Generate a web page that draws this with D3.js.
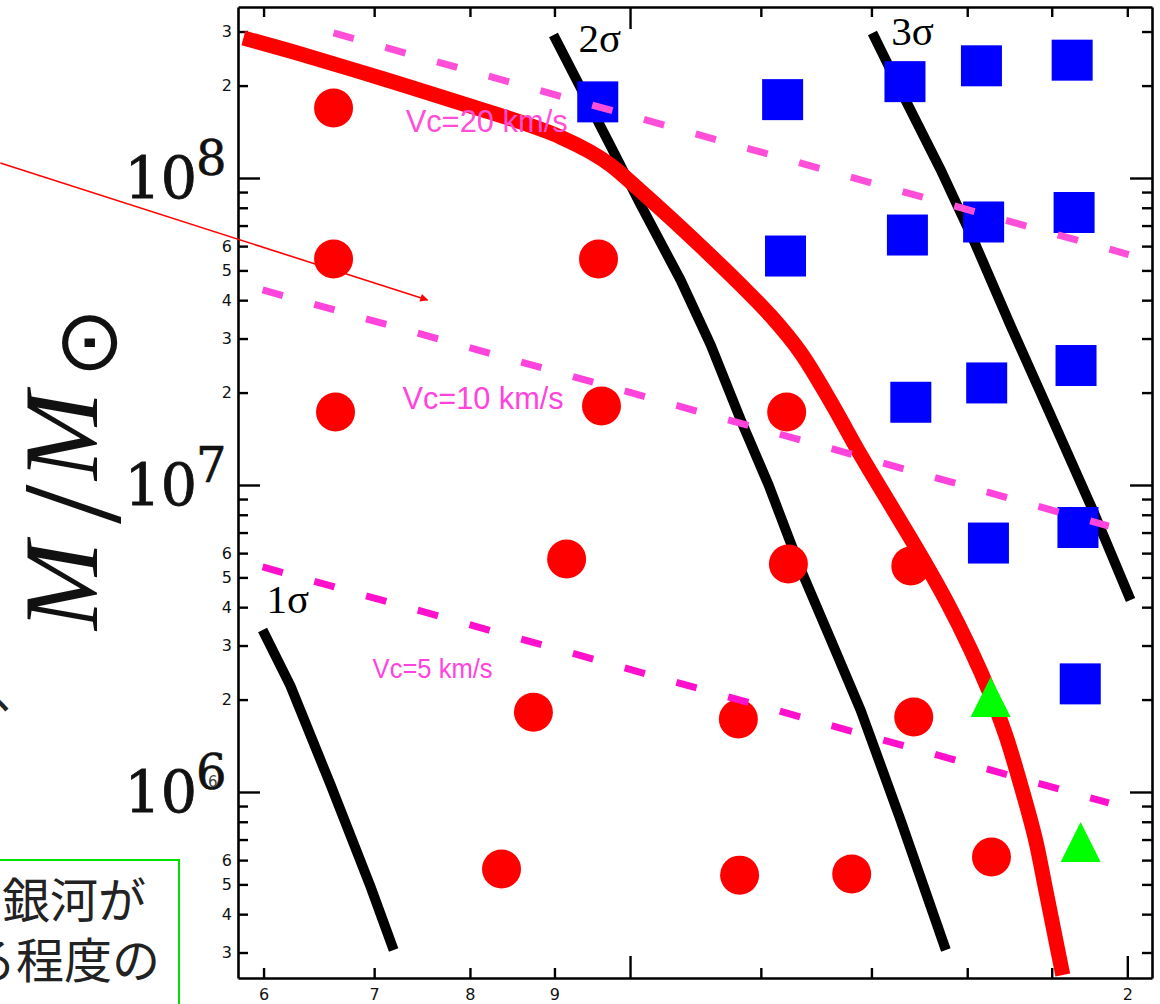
<!DOCTYPE html>
<html>
<head>
<meta charset="utf-8">
<script src="https://cdn.jsdelivr.net/npm/d3@7"></script>
<style>
body { margin: 0; background: #fff; }
svg { display: block; }
</style>
</head>
<body>
<div id="chart"></div>
<script>
// points: [x, mass]
const redCircles = [[6.615,1.69e8],[6.615,5.45e7],[6.633,1.73e7],[9.57,5.45e7],[9.61,1.81e7],
    [9.154,5.74e6],[8.74,1.82e6],[8.36,5.61e5],[12.44,1.73e7],[12.47,5.53e6],[11.63,1.73e6],
    [11.65,5.36e5],[13.62,5.41e5],[14.79,5.45e6],[14.85,1.755e6],[16.55,6.14e5]];
const blueSquares = [[9.56,1.77e8],[12.37,1.80e8],[14.67,2.06e8],[16.32,2.32e8],[18.52,2.42e8],
    [16.37,7.19e7],[14.72,6.52e7],[12.42,5.57e7],[18.57,7.72e7],[18.62,2.45e7],[16.44,2.15e7],
    [14.79,1.86e7],[16.48,6.47e6],[18.67,7.27e6],[18.73,2.25e6]];
const greenTriangles = [[16.53,2.04e6],[18.74,6.87e5]];

const redCurve = [[5.834,2.858e8],[6.318,2.535e8],[7.063,2.117e8],[7.896,1.755e8],[8.584,1.522e8],
    [9.076,1.360e8],[9.464,1.215e8],[9.732,1.102e8],[10.15,9.07e7],[10.58,7.41e7],[11.03,6.01e7],
    [11.67,4.48e7],[12.17,3.55e7],[12.69,2.69e7],[13.23,1.864e7],[13.79,1.252e7],[14.38,8.60e6],
    [14.99,5.92e6],[15.53,4.22e6],[16.08,2.90e6],[16.53,2.07e6],[16.88,1.534e6],[17.24,1.054e6],
    [17.60,6.98e5],[17.85,4.80e5],[18.10,3.30e5],[18.28,2.535e5]];
const sigma1 = [[5.992,3.372e6],[6.23,2.214e6],[6.588,1.054e6],[6.966,4.905e5],[7.193,3.057e5]];
const sigma2 = [[8.988,2.923e8],[9.691,1.330e8],[10.15,8.17e7],[10.73,4.65e7],[11.19,2.858e7],
    [11.67,1.628e7],[12.13,1.0e7],[12.69,5.29e6],[13.23,3.13e6],[13.79,1.850e6],[14.58,8.11e5],
    [15.53,3.057e5]];
const sigma3 = [[14.02,2.968e8],[14.68,1.795e8],[15.42,1.062e8],[16.19,6.05e7],[16.99,3.32e7],
    [17.97,1.690e7],[19.06,8.29e6],[20.09,4.22e6]];

const vcLines = [
    {name: "Vc=20 km/s", pts: [[6.615,2.968e8],[20.04,5.63e7]], label: [7.314,1.412e8], color: "#ff4fd8", labelColor: "#ff4fd8", width: 162, size: 31},
    {name: "Vc=10 km/s", pts: [[5.992,4.32e7],[19.49,7.35e6]], label: [7.283,1.768e7], color: "#ff44dd", labelColor: "#ff44dd", width: 161, size: 31},
    {name: "Vc=5 km/s", pts: [[5.992,5.41e6],[19.49,9.21e5]], label: [6.985,2.351e6], color: "#ff10cc", labelColor: "#ff44dd", width: 120, size: 27}
];
const sigmaLabels = [["1σ",6.025,3.829e6],["2σ",9.307,2.573e8],["3σ",14.39,2.712e8]];

const arrowPts = [[4.157,1.119e8],[7.541,4.005e7]];

const xTicks = [6,7,8,9,10,12,14,16,18,20];
const xMajor = [10,20];
const xLabels = {6: "6", 7: "7", 8: "8", 9: "9", 20: "2"};
const yDecades = [1e5,1e6,1e7,1e8];
const yMantissas = [1,2,3,4,5,6,7,8,9];
const yLabelled = [2,3,4,5,6];
const yPowers = [6,7,8];

const width = 1160, height = 1004;

const svg = d3.select("#chart").append("svg")
    .attr("width", width)
    .attr("height", height);

const x = d3.scaleLog().domain([5.79, 20.7]).range([238, 1152]);
const y = d3.scaleLog().domain([2.478e5, 3.606e8]).range([978, 7]);

const yTicks = [];
yDecades.forEach(dec => yMantissas.forEach(m => {
    const v = m * dec;
    if (v >= y.domain()[0] && v <= y.domain()[1]) yTicks.push(v);
}));
const isYMajor = v => Math.abs(Math.log10(v) - Math.round(Math.log10(v))) < 1e-6;
const mant = v => Math.round(v / Math.pow(10, Math.floor(Math.log10(v) + 1e-9)));

// ---- axes
function styleAxis(g) {
    g.selectAll("path.domain").attr("stroke", "#000").attr("stroke-width", 2.6);
    g.selectAll(".tick line").attr("stroke", "#000").attr("stroke-width", 2.4);
    g.selectAll(".tick text").attr("font-family", "DejaVu Sans").attr("font-size", 16).attr("fill", "#111");
}

const gBottom = svg.append("g").attr("transform", "translate(0,978)")
    .call(d3.axisBottom(x).tickValues(xTicks).tickSizeOuter(0).tickSizeInner(-10).tickPadding(11)
        .tickFormat(d => xLabels[d] || ""));
gBottom.selectAll(".tick line").attr("y2", d => xMajor.includes(d) ? -22 : -10);
styleAxis(gBottom);

const gTop = svg.append("g").attr("transform", "translate(0,7)")
    .call(d3.axisTop(x).tickValues(xTicks).tickSizeOuter(0).tickSizeInner(-10).tickFormat(""));
gTop.selectAll(".tick line").attr("y2", d => d === 10 ? 22 : 10);
styleAxis(gTop);

const gLeft = svg.append("g").attr("transform", "translate(238,0)")
    .call(d3.axisLeft(y).tickValues(yTicks).tickSizeOuter(0).tickSizeInner(-10).tickPadding(6)
        .tickFormat(d => (!isYMajor(d) && yLabelled.includes(mant(d))) ? String(mant(d)) : ""));
gLeft.selectAll(".tick line").attr("x2", d => isYMajor(d) ? 22 : 10);
styleAxis(gLeft);

const gRight = svg.append("g").attr("transform", "translate(1152,0)")
    .call(d3.axisRight(y).tickValues(yTicks).tickSizeOuter(0).tickSizeInner(-10).tickFormat(""));
gRight.selectAll(".tick line").attr("x2", d => isYMajor(d) ? -22 : -10);
styleAxis(gRight);

// big power-of-ten labels
yPowers.forEach(p => {
    const yy = y(Math.pow(10, p));
    svg.append("text")
        .attr("x", 197).attr("y", yy + 20)
        .attr("text-anchor", "end")
        .attr("font-family", "DejaVu Serif").attr("font-size", 57)
        .attr("fill", "#111").attr("stroke", "#111").attr("stroke-width", 0.8)
        .text("10");
    svg.append("text")
        .attr("x", 196).attr("y", yy - 3)
        .attr("font-family", "DejaVu Serif").attr("font-size", 48)
        .attr("fill", "#111").attr("stroke", "#111").attr("stroke-width", 0.6)
        .text(String(p));
});
// stray small label inside 10^6
svg.append("text").attr("x", 208).attr("y", y(1e6) - 5)
    .attr("font-family", "DejaVu Sans").attr("font-size", 15).attr("fill", "#444").text("6");

// y title  M / M☉
const title = svg.append("text")
    .attr("transform", "translate(97,630) rotate(-90)")
    .attr("font-family", "Liberation Serif")
    .attr("fill", "#111");
title.append("tspan").attr("x", 0).attr("font-style", "italic").attr("font-size", 106).text("M");
title.append("tspan").attr("x", 106).attr("dy", 23).attr("font-size", 142).text("/");
title.append("tspan").attr("x", 150).attr("dy", -23).attr("font-style", "italic").attr("font-size", 106).text("M");
title.append("tspan").attr("x", 252).attr("dy", 19).attr("font-family", "DejaVu Sans")
    .attr("font-size", 84).text("\u2299");

// ---- lines
const line = d3.line().x(d => x(d[0])).y(d => y(d[1]));
const smooth = d3.line().x(d => x(d[0])).y(d => y(d[1])).curve(d3.curveCatmullRom);

[sigma1, sigma2, sigma3].forEach(s => {
    svg.append("path").attr("d", line(s))
        .attr("fill", "none").attr("stroke", "#000").attr("stroke-width", 10);
});

svg.append("path").attr("d", smooth(redCurve))
    .attr("fill", "none").attr("stroke", "#ff0000").attr("stroke-width", 15);

// ---- points
svg.selectAll("circle.pt").data(redCircles).enter().append("circle")
    .attr("class", "pt")
    .attr("cx", d => x(d[0])).attr("cy", d => y(d[1])).attr("r", 19.5)
    .attr("fill", "#ff0000");

svg.selectAll("rect.pt").data(blueSquares).enter().append("rect")
    .attr("class", "pt")
    .attr("x", d => x(d[0]) - 20.5).attr("y", d => y(d[1]) - 20.5)
    .attr("width", 41).attr("height", 41)
    .attr("fill", "#0000ff");

svg.selectAll("path.tri").data(greenTriangles).enter().append("path")
    .attr("class", "tri")
    .attr("transform", d => "translate(" + x(d[0]) + "," + y(d[1]) + ")")
    .attr("d", "M0,-20L20,20L-20,20Z")
    .attr("fill", "#00ff00");

// ---- Vc dashed lines
vcLines.forEach(v => {
    svg.append("path").attr("d", line(v.pts))
        .attr("fill", "none").attr("stroke", v.color).attr("stroke-width", 7)
        .attr("stroke-dasharray", "21,32.7");
    svg.append("text")
        .attr("x", x(v.label[0])).attr("y", y(v.label[1]))
        .attr("font-family", "Liberation Sans").attr("font-size", v.size)
        .attr("textLength", v.width).attr("lengthAdjust", "spacingAndGlyphs")
        .attr("fill", v.labelColor)
        .text(v.name);
});

sigmaLabels.forEach(s => {
    svg.append("text")
        .attr("x", x(s[1])).attr("y", y(s[2]))
        .attr("font-family", "Liberation Serif").attr("font-size", 41)
        .attr("fill", "#000")
        .text(s[0]);
});

// ---- annotation arrow
const defs = svg.append("defs");
defs.append("marker").attr("id", "ah")
    .attr("viewBox", "0 0 10 10").attr("refX", 9).attr("refY", 5)
    .attr("markerWidth", 11).attr("markerHeight", 8).attr("markerUnits", "userSpaceOnUse")
    .attr("orient", "auto")
    .append("path").attr("d", "M0,0L10,5L0,10Z").attr("fill", "#ff0000");
svg.append("path").attr("d", line(arrowPts))
    .attr("stroke", "#ff0000").attr("stroke-width", 1.6).attr("fill", "none")
    .attr("marker-end", "url(#ah)");

// ---- cut off japanese note
svg.append("text").attr("x", -8).attr("y", 708)
    .attr("font-family", "Noto Sans CJK JP").attr("font-size", 48).attr("fill", "#222").text("、");
svg.append("rect").attr("x", -5).attr("y", 860).attr("width", 184).attr("height", 160)
    .attr("fill", "none").attr("stroke", "#00e000").attr("stroke-width", 2);
svg.append("text").attr("x", 2).attr("y", 918)
    .attr("font-family", "Noto Sans CJK JP").attr("font-size", 48).attr("fill", "#222").text("銀河が");
svg.append("text").attr("x", -32).attr("y", 978)
    .attr("font-family", "Noto Sans CJK JP").attr("font-size", 48).attr("fill", "#222").text("る程度の");
</script>
</body>
</html>
